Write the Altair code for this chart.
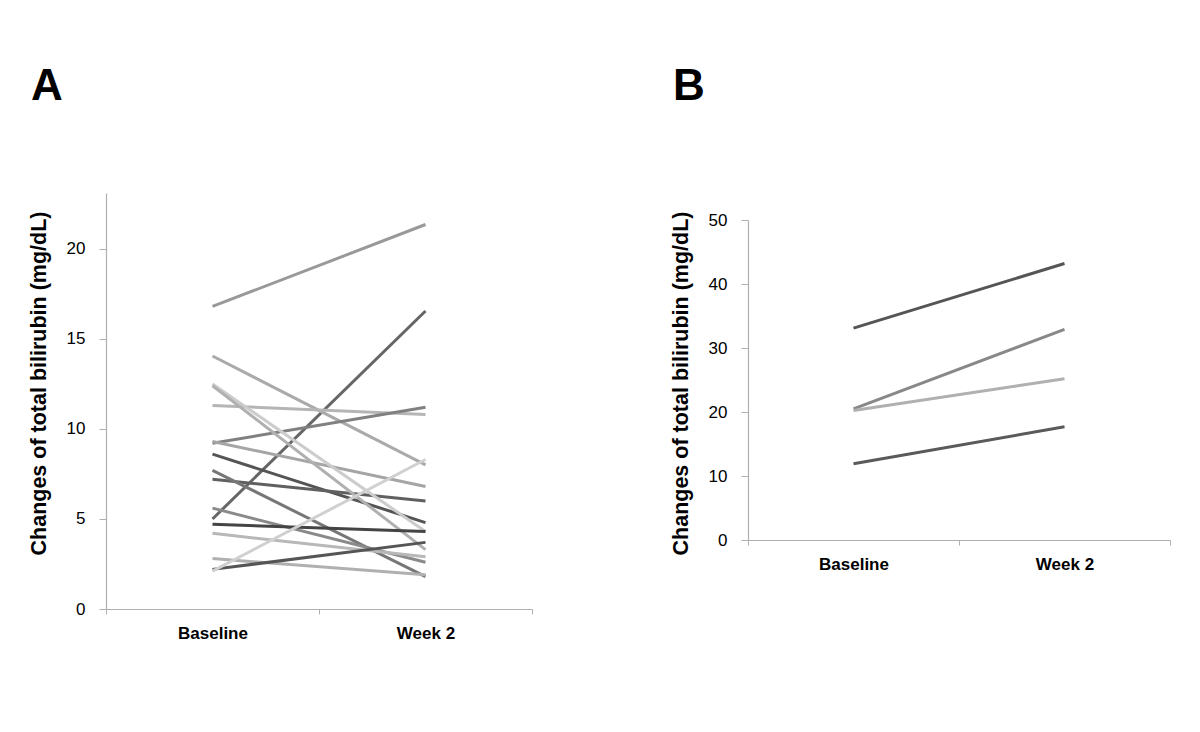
import altair as alt
import pandas as pd

visits = ["Baseline", "Week 2"]

# Panel A: 17 patients, total bilirubin (mg/dL)
a_baseline = [16.8, 5.0, 14.05, 11.3, 9.2, 9.3, 8.6, 7.2, 7.7, 12.5, 12.4, 5.6, 4.7, 4.2, 2.8, 2.2, 2.1]
a_week2 = [21.35, 16.55, 8.0, 10.8, 11.2, 6.8, 4.8, 6.0, 1.8, 4.3, 3.3, 2.6, 4.3, 2.9, 1.9, 3.7, 8.3]
a_colors = ["#999999", "#666666", "#aaaaaa", "#b5b5b5", "#808080", "#a5a5a5", "#555555",
            "#606060", "#777777", "#cccccc", "#b0b0b0", "#8a8a8a", "#444444", "#b8b8b8",
            "#b0b0b0", "#555555", "#d0d0d0"]
a_ticks = [0, 5, 10, 15, 20]

# Panel B: 4 patients
b_baseline = [33.1, 20.5, 20.25, 11.9]
b_week2 = [43.2, 32.9, 25.2, 17.7]
b_colors = ["#555555", "#888888", "#b0b0b0", "#5a5a5a"]
b_ticks = [0, 10, 20, 30, 40, 50]

y_title = "Changes of total bilirubin (mg/dL)"
FONT = "Liberation Sans"
H = 416


def panel(letter, baseline, week2, colors, ticks, ymax, w, y_range, x_offset, title_y):
    ids = [f"{letter}{i + 1}" for i in range(len(baseline))]
    rows = []
    for sid, b, wk in zip(ids, baseline, week2):
        rows.append({"subject": sid, "visit": visits[0], "value": b})
        rows.append({"subject": sid, "visit": visits[1], "value": wk})
    df = pd.DataFrame(rows)
    return alt.Chart(df).mark_line(strokeWidth=3).encode(
        x=alt.X("visit:N", sort=visits,
                scale=alt.Scale(paddingInner=0, paddingOuter=0),
                axis=alt.Axis(title=None, tickBand="extent", labelAngle=0,
                              labelFontWeight="bold", labelFontSize=17,
                              tickSize=5, labelPadding=11, offset=x_offset)),
        y=alt.Y("value:Q", scale=alt.Scale(domain=[0, ymax], nice=False, zero=True,
                                           range=y_range),
                axis=alt.Axis(values=ticks, title=y_title, titleFontSize=21.5,
                              titleFontWeight="bold", titleAngle=-90,
                              titleBaseline="bottom", titleAlign="center",
                              titleX=-56, titleY=title_y,
                              labelFontSize=17, tickSize=7, labelPadding=14)),
        color=alt.Color("subject:N", scale=alt.Scale(domain=ids, range=colors), legend=None),
    ).properties(
        width=w, height=H,
        title=alt.TitleParams(letter, anchor="start", frame="bounds", fontSize=44,
                              fontWeight="bold", font=FONT, color="black",
                              offset=84, dx=3),
    )


chart_a = panel("A", a_baseline, a_week2, a_colors, a_ticks, 23.1, 426, [H, 0], 0, 190)
chart_b = panel("B", b_baseline, b_week2, b_colors, b_ticks, 50, 422, [347, 27], -69, 190)

chart = alt.hconcat(chart_a, chart_b, spacing=137).resolve_scale(
    color="independent"
).properties(
    padding={"left": 20, "top": 57, "right": 0, "bottom": 0}
).configure_view(stroke=None).configure_axis(
    grid=False, domainColor="#b0b0b0", tickColor="#b0b0b0", domainWidth=1.2,
    labelFont=FONT, titleFont=FONT, labelColor="black", titleColor="black"
)

chart.save("out.html", embed_options={"renderer": "svg", "actions": False})
